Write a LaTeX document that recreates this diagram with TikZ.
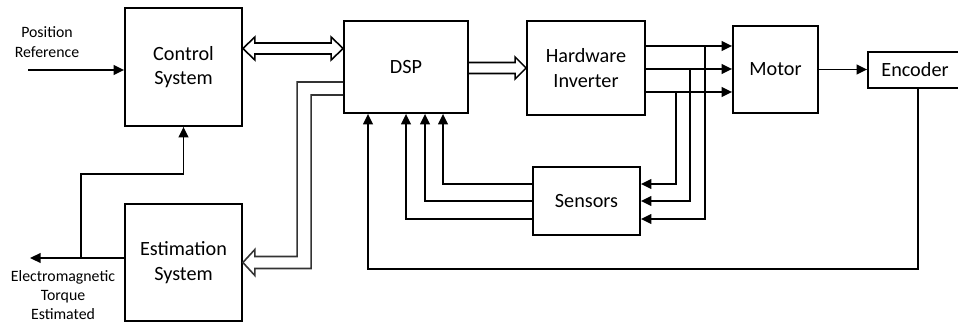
\documentclass[tikz,border=0pt]{standalone}
\usepackage{fontspec}
\setmainfont{Carlito}
\usetikzlibrary{positioning, arrows.meta, calc}

\begin{document}
\begin{tikzpicture}[
  base/.style={
    draw=black, line width=1pt,
    inner sep=0pt, align=center,
    font=\fontsize{11.5}{14}\selectfont,
  },
  blockbox/.style={base, fill=white},
  smalllbl/.style={font=\fontsize{9}{11}\selectfont, align=center},
  sig/.style={-{Triangle[length=6pt, width=5.5pt]}, line width=1pt},
  hollow/.style={line width=0.9pt, line join=miter},
  hollowgray/.style={hollow, draw=black!80},
]

\useasboundingbox (0,0) rectangle (19.16,-6.44);

% ---- Blocks ----
\node[blockbox, minimum width=2.34cm, minimum height=2.36cm] (ctrl) at (3.67,-1.34) {Control\\System};
\node[blockbox, minimum width=2.48cm, minimum height=1.84cm] (dsp)  at (8.12,-1.34) {DSP};
\node[blockbox, minimum width=2.36cm, minimum height=1.88cm] (hw)   at (11.72,-1.36) {Hardware\\Inverter};
\node[blockbox, minimum width=1.70cm, minimum height=1.74cm] (mot)  at (15.51,-1.39) {Motor};
\node[blockbox, minimum width=1.88cm, minimum height=0.72cm] (enc)  at (18.30,-1.40) {Encoder};
\node[blockbox, minimum width=2.14cm, minimum height=1.36cm] (sen)  at (11.73,-4.02) {Sensors};
\node[blockbox, minimum width=2.34cm, minimum height=2.34cm] (est)  at (3.67,-5.25) {Estimation\\System};

% ---- Outside labels ----
\node[smalllbl] (posref) at (0.94,-0.84) {Position\\Reference};
\node[smalllbl] (tqlbl)  at (1.26,-5.90) {Electromagnetic\\Torque\\Estimated};

% ---- Free ends and branch points ----
\coordinate (pin)   at (0.56,-1.40);
\coordinate (tqout) at (0.60,-5.16);
\coordinate (tqbr)  at (1.62,-5.16);
\coordinate (p1) at ($(hw.east)+(0,0.44)$);
\coordinate (p2) at ($(hw.east)+(0,-0.02)$);
\coordinate (p3) at ($(hw.east)+(0,-0.48)$);
\coordinate (b1) at ($(p1)+(1.18,0)$);
\coordinate (b2) at ($(p2)+(0.88,0)$);
\coordinate (b3) at ($(p3)+(0.60,0)$);

% ---- Control <-> DSP (hollow double arrow) ----
\draw[hollow] ($(ctrl.east)+(0,0.37)$) -- ++(0.24,0.23) -- ++(0,-0.12)
  -- ($(dsp.west)+(-0.24,0.48)$) -- ++(0,0.12) -- ($(dsp.west)+(0,0.37)$)
  -- ++(-0.24,-0.23) -- ++(0,0.12) -- ($(ctrl.east)+(0.24,0.26)$)
  -- ++(0,-0.12) -- cycle;

% ---- DSP -> Inverter (hollow arrow) ----
\draw[hollow] ($(dsp.east)+(0,0.09)$) -- ($(hw.west)+(-0.22,0.11)$)
  -- ++(0,0.11) -- (hw.west) -- ++(-0.22,-0.22) -- ++(0,0.11)
  -- ($(dsp.east)+(0,-0.13)$);

% ---- DSP -> Estimation (bent hollow arrow) ----
\draw[hollowgray] ($(dsp.west)+(0,-0.30)$) -- ++(-0.92,0)
  |- ($(est.east)+(0.24,0.12)$) -- ++(0,0.14) -- (est.east)
  -- ++(0.24,-0.26) -- ++(0,0.14)
  -| ($(dsp.west)+(-0.64,-0.56)$) -- ($(dsp.west)+(0,-0.56)$);

% ---- Inverter -> Motor ----
\draw[sig] (p1) -- (p1 -| mot.west);
\draw[sig] (p2) -- (p2 -| mot.west);
\draw[sig] (p3) -- (p3 -| mot.west);

% ---- Phase taps -> Sensors ----
\draw[sig] (b3) |- ($(sen.east)+(0,0.34)$);
\draw[sig] (b2) |- (sen.east);
\draw[sig] (b1) |- ($(sen.east)+(0,-0.36)$);

% ---- Sensors -> DSP ----
\draw[sig] ($(sen.west)+(0,0.34)$) -| ($(dsp.south)+(0.74,0)$);
\draw[sig] (sen.west) -| ($(dsp.south)+(0.38,0)$);
\draw[sig] ($(sen.west)+(0,-0.36)$) -| (dsp.south);

% ---- Motor -> Encoder -> DSP ----
\draw[sig] (mot.east) -- (mot.east -| enc.west);
\draw[sig] ($(enc.south)+(0.06,0)$) |- ($(dsp.south)+(-0.76,-3.10)$)
  -- ($(dsp.south)+(-0.76,0)$);

% ---- Reference in, torque out ----
\draw[sig] (pin) -- (pin -| ctrl.west);
\draw[sig] ($(est.west)+(0,0.09)$) -- (tqout);
\draw[sig] (tqbr) |- ($(ctrl.south)+(0,-0.94)$) -- (ctrl.south);

\end{tikzpicture}
\end{document}
